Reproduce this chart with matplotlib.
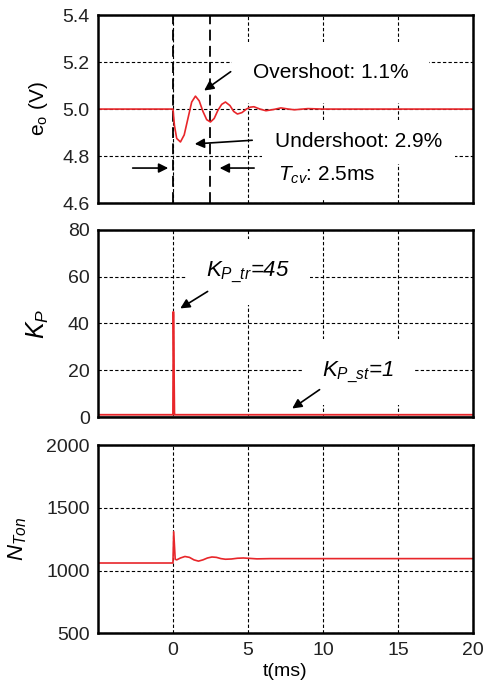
import matplotlib
matplotlib.use("Agg")
import matplotlib.pyplot as plt

plt.rcParams['font.family'] = ['Liberation Sans', 'DejaVu Sans']
plt.rcParams['mathtext.fontset'] = 'custom'
plt.rcParams['mathtext.rm'] = 'Liberation Sans'
plt.rcParams['mathtext.it'] = 'Liberation Sans:italic'
plt.rcParams['mathtext.bf'] = 'Liberation Sans:bold'

# DATA
t_eo = [-5, 0, 0.1, 0.25, 0.5, 0.75, 1.0, 1.25, 1.5, 1.75, 2.0, 2.25, 2.5, 2.75,
        3.0, 3.25, 3.5, 3.8, 4.05, 4.3, 4.6, 4.9, 5.15, 5.4, 5.8, 6.2, 6.7, 7.2,
        7.7, 8.1, 9.0, 10, 12, 14, 20]
eo = [5.0, 5.0, 4.93, 4.875, 4.86, 4.89, 4.96, 5.03, 5.055, 5.035, 4.99, 4.955,
      4.945, 4.96, 4.995, 5.02, 5.03, 5.015, 4.99, 4.979, 4.985, 5.0, 5.008,
      5.01, 5.0, 4.993, 4.998, 5.005, 5.0, 4.997, 5.002, 5.0, 5.0, 5.0, 5.0]

t_kp = [-5, 0.0, 0.03, 0.1, 0.15, 20]
kp = [1, 1, 45, 1, 1, 1]
kp_base = [0.4, 0.4]
t_base = [-5, 20]

t_n = [-5, 0, 0.05, 0.15, 0.25, 0.5, 0.8, 1.1, 1.4, 1.7, 2.0, 2.3, 2.6, 2.9,
       3.2, 3.5, 3.9, 4.3, 4.7, 5.1, 5.6, 6.5, 8, 10, 20]
n_ton = [1060, 1060, 1310, 1090, 1085, 1100, 1112, 1105, 1085, 1075, 1085, 1100,
         1108, 1105, 1095, 1090, 1092, 1098, 1100, 1097, 1093, 1095, 1095, 1095, 1095]

t_cv = [0, 2.5]
x_ticks = [0, 5, 10, 15, 20]

RED = '#e8262a'
FS = 14
FS_TXT = 15

fig = plt.figure(figsize=(4.85, 6.86), dpi=100)
ax1 = fig.add_axes([0.202, 0.704, 0.773, 0.274])
ax2 = fig.add_axes([0.202, 0.392, 0.773, 0.273])
ax3 = fig.add_axes([0.202, 0.077, 0.773, 0.274])


def style(ax, yticks, fmt=None):
    ax.set_xlim(-5, 20)
    ax.set_ylim(yticks[0], yticks[-1])
    ax.set_xticks(x_ticks)
    ax.set_yticks(yticks)
    if fmt:
        ax.set_yticklabels([fmt.format(v) for v in yticks])
    ax.grid(True, color='black', linestyle=(0, (3, 2)), linewidth=0.8)
    ax.tick_params(length=0, labelsize=FS, colors='#222222', pad=6)
    for s in ax.spines.values():
        s.set_linewidth(1.8)
        s.set_zorder(5)


style(ax1, [4.6, 4.8, 5.0, 5.2, 5.4], '{:.1f}')
style(ax2, [0, 20, 40, 60, 80])
style(ax3, [500, 1000, 1500, 2000])
ax1.set_xticklabels([])
ax2.set_xticklabels([])

ax1.plot(t_eo, eo, color=RED, lw=1.2, zorder=3)
for tv in t_cv:
    ax1.axvline(tv, color='black', lw=1.3, linestyle=(0, (6, 3)), zorder=2)

ax2.plot(t_base, kp_base, color='#999999', lw=1.0, zorder=2)
ax2.plot(t_kp, kp, color=RED, lw=1.3, zorder=3)

ax3.plot(t_n, n_ton, color=RED, lw=1.2, zorder=3)

ax1.set_ylabel(r'e$_\mathrm{o}$ (V)', fontsize=FS + 1, labelpad=9)
ax2.set_ylabel(r'$K_P$', fontsize=FS + 4, labelpad=12)
ax3.set_ylabel(r'$N_{Ton}$', fontsize=FS + 2, labelpad=12)
ax3.set_xlabel('t(ms)', fontsize=FS, labelpad=3)

arrow = dict(arrowstyle='-|>', color='black', lw=1.2, mutation_scale=14)
box = dict(boxstyle='square,pad=1.0', fc='white', ec='none')
box_s = dict(boxstyle='square,pad=0.6', fc='white', ec='none')
box_k = dict(boxstyle='square,pad=0.9', fc='white', ec='none')

# panel 1 annotations
ax1.text(5.33, 5.157, 'Overshoot: 1.1%', fontsize=FS_TXT, va='center', bbox=box, zorder=4)
ax1.annotate('', xy=(1.93, 5.072), xytext=(4.0, 5.166), arrowprops=arrow, zorder=6)
ax1.text(6.8, 4.86, 'Undershoot: 2.9%', fontsize=FS_TXT, va='center', bbox=box_s, zorder=4)
ax1.annotate('', xy=(1.27, 4.851), xytext=(5.47, 4.868), arrowprops=arrow, zorder=6)
ax1.text(7.0, 4.72, r'$T_{cv}$: 2.5ms', fontsize=FS_TXT, va='center', bbox=box_s, zorder=4)
ax1.annotate('', xy=(-0.13, 4.749), xytext=(-2.87, 4.749), arrowprops=arrow, zorder=6)
ax1.annotate('', xy=(2.93, 4.749), xytext=(5.6, 4.749), arrowprops=arrow, zorder=6)

# panel 2 annotations
ax2.text(2.2, 62, r'$K_{P\_tr}$=45', fontsize=FS_TXT + 1, style='italic', va='center',
         bbox=box_k, zorder=4)
ax2.annotate('', xy=(0.33, 45.8), xytext=(2.47, 54.3), arrowprops=arrow, zorder=6)
ax2.text(9.93, 19.3, r'$K_{P\_st}$=1', fontsize=FS_TXT + 1, style='italic', va='center',
         bbox=box_k, zorder=4)
ax2.annotate('', xy=(7.8, 3.0), xytext=(9.93, 12.4), arrowprops=arrow, zorder=6)

fig.savefig('out.png', dpi=100)
